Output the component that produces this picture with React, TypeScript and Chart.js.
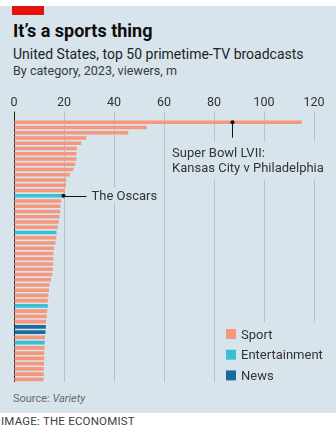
import React, { useEffect, useRef } from "react";
import { Chart, registerables } from "chart.js";

Chart.register(...registerables);

// ---- Data ----
const ranks = [
  "1", "2", "3", "4", "5", "6", "7", "8", "9", "10",
  "11", "12", "13", "14", "15", "16", "17", "18", "19", "20",
  "21", "22", "23", "24", "25", "26", "27", "28", "29", "30",
  "31", "32", "33", "34", "35", "36", "37", "38", "39", "40",
  "41", "42", "43", "44", "45", "46", "47", "48", "49", "50",
];

const viewers = [
  115.1, 53.1, 45.7, 28.9, 26.9, 25.1, 25.0, 25.0, 24.5, 23.8,
  22.3, 20.9, 20.8, 20.4, 19.8, 18.9, 18.6, 18.5, 18.2, 17.9,
  17.5, 17.0, 16.9, 16.6, 16.0, 15.8, 15.8, 15.7, 15.5, 15.3,
  14.8, 14.2, 14.0, 13.8, 13.5, 13.5, 13.3, 13.1, 12.8, 12.7,
  12.6, 12.4, 12.3, 12.2, 12.1, 12.1, 12.0, 11.9, 11.9, 11.8,
];

// S = Sport, E = Entertainment, N = News
const category = [
  "S", "S", "S", "S", "S", "S", "S", "S", "S", "S",
  "S", "S", "S", "S", "E", "S", "S", "S", "S", "S",
  "S", "E", "S", "S", "S", "S", "S", "S", "S", "S",
  "S", "S", "S", "S", "S", "E", "S", "S", "S", "N",
  "N", "S", "E", "S", "S", "S", "S", "S", "S", "S",
];

const seriesKeys = ["S", "E", "N"];
const seriesNames = ["Sport", "Entertainment", "News"];
const seriesColors = ["#f5977d", "#3bbfd3", "#1b6c9c"];

const xMin = 0;
const xMax = 120;
const xStep = 20;

const superBowlIndex = 0;
const superBowlMarker = 87;
const superBowlLines = ["Super Bowl LVII:", "Kansas City v Philadelphia"];
const oscarsIndex = 14;
const oscarsLabel = "The Oscars";

// ---- Styles ----
const BG = "#d7e4ec";
const GRID = "#b3c2cb";
const TEXT = "#333333";
const FONT = "Roboto";

const overlayPlugin = {
  id: "overlay",
  afterDraw(chart: any) {
    const { ctx, chartArea } = chart;
    const x = chart.scales.x;
    const y = chart.scales.y;
    ctx.save();
    ctx.textBaseline = "alphabetic";
    ctx.textAlign = "left";

    // Super Bowl annotation
    ctx.font = `13px ${FONT}`;
    const sbY = y.getPixelForValue(superBowlIndex);
    const sbX = x.getPixelForValue(superBowlMarker);
    ctx.fillStyle = BG;
    ctx.fillRect(sbX - 63, sbY + 19, 158, 38);
    ctx.strokeStyle = "#111";
    ctx.lineWidth = 1;
    ctx.beginPath();
    ctx.moveTo(Math.round(sbX) + 0.5, sbY);
    ctx.lineTo(Math.round(sbX) + 0.5, sbY + 15.5);
    ctx.stroke();
    ctx.fillStyle = "#111";
    ctx.beginPath();
    ctx.arc(Math.round(sbX) + 0.5, sbY, 2, 0, Math.PI * 2);
    ctx.fill();
    ctx.fillStyle = TEXT;
    superBowlLines.forEach((line, i) => {
      ctx.fillText(line, sbX - 59.4, sbY + 34.3 + i * 15.7);
    });

    // Oscars annotation
    const osY = y.getPixelForValue(oscarsIndex);
    const osX = x.getPixelForValue(viewers[oscarsIndex]);
    const tw = ctx.measureText(oscarsLabel).width;
    ctx.fillStyle = BG;
    ctx.fillRect(osX + 26, osY - 8, tw + 6, 15);
    ctx.strokeStyle = "#111";
    ctx.beginPath();
    ctx.moveTo(osX, Math.round(osY) + 0.5);
    ctx.lineTo(osX + 23, Math.round(osY) + 0.5);
    ctx.stroke();
    ctx.fillStyle = "#111";
    ctx.beginPath();
    ctx.arc(osX, osY, 2, 0, Math.PI * 2);
    ctx.fill();
    ctx.fillStyle = TEXT;
    ctx.fillText(oscarsLabel, osX + 28, osY + 4.2);

    // Legend
    ctx.font = `13px ${FONT}`;
    const lx = chartArea.right - 88;
    const ly = chartArea.bottom - 48;
    ctx.fillStyle = BG;
    ctx.fillRect(lx - 6, ly - 12, chart.width - lx + 6, 66);
    seriesNames.forEach((name, i) => {
      const cy = ly + i * 20.7;
      ctx.fillStyle = seriesColors[i];
      ctx.fillRect(lx, cy - 5, 10, 10);
      ctx.fillStyle = TEXT;
      ctx.fillText(name, lx + 15, cy + 4.6);
    });
    ctx.restore();
  },
};

function ChartCanvas() {
  const ref = useRef<HTMLCanvasElement | null>(null);
  useEffect(() => {
    if (!ref.current) return;
    const datasets = seriesKeys.map((key, si) => ({
      label: seriesNames[si],
      data: viewers.map((v, i) => (category[i] === key ? v : null)),
      backgroundColor: seriesColors[si],
      borderWidth: 0,
      grouped: false,
      barPercentage: 0.68,
      categoryPercentage: 1,
    }));
    const chart = new Chart(ref.current, {
      type: "bar",
      data: { labels: ranks, datasets: datasets as any },
      options: {
        indexAxis: "y",
        animation: false,
        responsive: true,
        maintainAspectRatio: false,
        layout: { padding: { left: 14, right: 22, top: 4.6, bottom: 4 } },
        plugins: { legend: { display: false }, tooltip: { enabled: false } },
        scales: {
          x: {
            position: "top",
            min: xMin,
            max: xMax,
            border: { display: false },
            grid: {
              color: (c: any) => (c.tick && c.tick.value === 0 ? "#1a1a1a" : GRID),
              lineWidth: 1,
              tickLength: 8,
              drawTicks: true,
            },
            ticks: {
              stepSize: xStep,
              padding: 1,
              color: TEXT,
              font: { family: FONT, size: 12.5 },
            },
          },
          y: {
            display: false,
            offset: true,
            grid: { display: false },
          },
        },
      },
      plugins: [overlayPlugin],
    });
    return () => chart.destroy();
  }, []);
  return <canvas ref={ref} />;
}

export default function App() {
  return (
    <div
      style={{
        position: "absolute",
        left: 0,
        top: 0,
        width: 336,
        height: 443,
        background: "#ffffff",
        fontFamily: FONT,
        overflow: "hidden",
      }}
    >
      <div style={{ position: "absolute", left: 0, top: 6, width: 336, height: 407, background: BG }} />
      <div style={{ position: "absolute", left: 12, top: 6, width: 32, height: 9, background: "#e3120b" }} />
      <div
        style={{
          position: "absolute", left: 13, top: 22.1, fontSize: 18, lineHeight: "18px",
          fontWeight: 700, color: "#0d0d0d", whiteSpace: "nowrap",
        }}
      >
        It’s a sports thing
      </div>
      <div
        style={{
          position: "absolute", left: 13, top: 46.5, fontSize: 14, lineHeight: "14px",
          color: "#1f1f1f", whiteSpace: "nowrap",
        }}
      >
        United States, top 50 primetime-TV broadcasts
      </div>
      <div
        style={{
          position: "absolute", left: 13, top: 65.4, fontSize: 12.6, lineHeight: "12.6px",
          color: "#3a3a3a", whiteSpace: "nowrap",
        }}
      >
        By category, 2023, viewers, m
      </div>
      <div style={{ position: "absolute", left: 0, top: 90, width: 336, height: 296 }}>
        <ChartCanvas />
      </div>
      <div
        style={{
          position: "absolute", left: 13, top: 393.4, fontSize: 11, lineHeight: "11px",
          color: "#6b6b6b", whiteSpace: "nowrap",
        }}
      >
        Source: <span style={{ fontStyle: "italic" }}>Variety</span>
      </div>
      <div
        style={{
          position: "absolute", left: 1, top: 416.3, fontSize: 11.5, lineHeight: "11.5px",
          color: "#404040", whiteSpace: "nowrap", letterSpacing: 0.2,
        }}
      >
        IMAGE: THE ECONOMIST
      </div>
    </div>
  );
}
